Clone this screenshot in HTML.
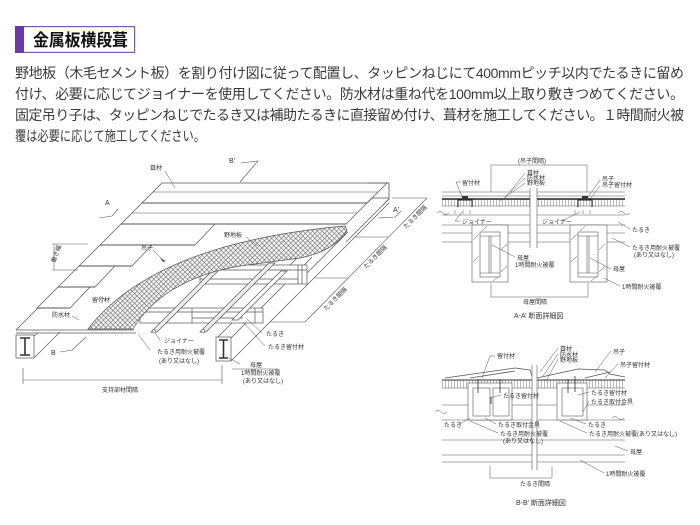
<!DOCTYPE html>
<html lang="ja">
<head>
<meta charset="utf-8">
<style>
html,body{margin:0;padding:0;background:#fff;}
body{width:700px;height:525px;position:relative;overflow:hidden;}
svg{position:absolute;left:0;top:0;}
.t{font-family:"Liberation Sans","Noto Sans CJK JP",sans-serif;}
.lb{font-family:"Liberation Sans","Noto Sans CJK JP",sans-serif;font-size:6px;fill:#333;}
</style>
</head>
<body>
<svg width="700" height="525" viewBox="0 0 700 525" xmlns="http://www.w3.org/2000/svg">
<defs>
<pattern id="chk" width="3.4" height="3.4" patternUnits="userSpaceOnUse" patternTransform="rotate(45)">
<rect width="3.4" height="3.4" fill="#f4f4f4"/>
<path d="M0 0H3.4M0 0V3.4" stroke="#555" stroke-width="0.9"/>
</pattern>
<pattern id="vh" width="3" height="10" patternUnits="userSpaceOnUse">
<rect width="3" height="10" fill="#fff"/>
<path d="M1.5 0V10" stroke="#777" stroke-width="0.5"/>
</pattern>
</defs>

<!-- Header -->
<rect x="15.6" y="26.6" width="119" height="25.8" fill="#fff" stroke="#7d55b5" stroke-width="1.2"/>
<rect x="15" y="26" width="9" height="27" fill="#6a3aa8"/>
<text class="t" x="33" y="46" font-size="17" font-weight="bold" fill="#111" textLength="95" lengthAdjust="spacingAndGlyphs">金属板横段葺</text>

<!-- Body text -->
<g class="t" font-size="14" fill="#3a3a3a">
<text x="15" y="78" textLength="669" lengthAdjust="spacing">野地板（木毛セメント板）を割り付け図に従って配置し、タッピンねじにて400mmピッチ以内でたるきに留め</text>
<text x="15" y="99" textLength="669" lengthAdjust="spacing">付け、必要に応じてジョイナーを使用してください。防水材は重ね代を100mm以上取り敷きつめてください。</text>
<text x="15" y="120" textLength="669" lengthAdjust="spacing">固定吊り子は、タッピンねじでたるき又は補助たるきに直接留め付け、葺材を施工してください。１時間耐火被</text>
<text x="15" y="141" textLength="190" lengthAdjust="spacingAndGlyphs">覆は必要に応じて施工してください。</text>
</g>

<!-- ============ MAIN ISOMETRIC DIAGRAM ============ -->
<g fill="none" stroke="#555" stroke-width="0.7">
  <path d="M16,330 L162,183"/>
  <path d="M16,330 H134 M16,333 H136"/>
  <path d="M217,338 L300,255 M231,338 L312,257 M231,361 L389,203"/>
  <rect x="200" y="265" width="107" height="19" fill="#fff"/>
  <path d="M200,270 H307 M298,265 V284 M302,265 V284 M200,279 H298"/>
  <rect x="140" y="308" width="123" height="15" fill="#fff"/>
  <path d="M140,312 H263 M192,308 V323 M255,308 V323 M192,318 H243"/>
  <polygon points="232,320 238,320 287,271 281,271" fill="#fff"/>
  <polygon points="151,332 157,332 226,263 220,263" fill="#eee"/>
  <polygon points="200,332 206,332 275,263 269,263" fill="#eee"/>
  <circle cx="154" cy="331" r="1.8" fill="#fff"/>
  <circle cx="203" cy="331" r="1.8" fill="#fff"/>
  <path d="M348,232 L307,273"/>
  <path d="M389,199 L346,242"/>
  <g fill="#fff">
    <polygon points="162,183 387,183 367,203 142,203"/>
    <polygon points="142,203 367,203 346,224 121,224"/>
    <polygon points="121,224 215,224 195,245 100,245"/>
    <polygon points="100,245 152,245 132,266 79,266"/>
    <polygon points="79,266 115,266 95,287 58,287"/>
    <polygon points="58,287 90,287 70,308 37,308"/>
  </g>
  <path d="M153,192 H378 M132,213 H357" stroke-width="0.5"/>
  <path d="M142,203 H367 M121,224 H346 M100,245 H195 M79,266 H132 M58,287 H95 M37,308 H70" stroke-width="1"/>
  <path d="M367,183 L389,183 L389,199 L383,205 M367,203 L372,198 L389,198" stroke-width="0.8"/>
  <path d="M88,329 C130,275 210,238 345,226 L347,231 Q332,252 300,258 L240,266 C185,275 150,300 133,329 Z" fill="url(#chk)" stroke="#555" stroke-width="0.7"/>
  <rect x="16" y="335" width="18" height="23" fill="#fff"/>
  <path d="M34,358 L60,332 M34,336 L38,333"/>
  <path d="M20,338 H30 M20,355 H30 M25,338 V355" stroke-width="1.6" stroke="#333"/>
  <rect x="216" y="337" width="15" height="24" fill="#fff"/>
  <path d="M219,340 H228 M219,358 H228 M223.5,340 V358" stroke-width="1.6" stroke="#333"/>
  <path d="M23,380 H222 M23,368 V384 M222,365 V384" stroke-width="0.6"/>
  <path d="M427,198 L305,322 M392,198 H427 M355,237 H388 M315,278 H348 M270,322 H305" stroke-width="0.6"/>
  <path d="M99,218 L112,216 L118,209" stroke-width="0.6"/>
  <path d="M378,218 L395,217 L401,211" stroke-width="0.6"/>
  <path d="M241,163 L258,161 L240,182" stroke-width="0.6"/>
  <path d="M60,352 L72,350 L86,337" stroke-width="0.6"/>
  <path d="M52,244 H88 M52,270 H78 M54,244 V270" stroke-width="0.5"/>
  <path d="M165,171 L175,188 M246,237 L258,246 M153,250 L164,261 M106,301 L100,296 M72,316 L79,320 M160,340 L155,333 M262,333 L246,318 M265,346 L243,322 M150,350 L138,334 M240,364 L229,358 M232,369 H278" stroke-width="0.5"/>
  <path d="M160,258 l3,4 l3,-1 z" fill="#555" stroke="none"/>
</g>
<g class="lb">
  <text x="150" y="170">葺材</text>
  <text x="229" y="163" font-size="7">B'</text>
  <text x="105" y="205" font-size="7">A</text>
  <text x="393" y="212" font-size="7">A'</text>
  <text x="224" y="237">野地板</text>
  <text x="141" y="250">吊子</text>
  <text x="92" y="302">留付材</text>
  <text x="52" y="317">防水材</text>
  <text x="164" y="343">ジョイナー</text>
  <text x="51" y="355" font-size="7">B</text>
  <text x="266" y="336">たるき</text>
  <text x="268" y="349">たるき留付材</text>
  <text x="157" y="354">たるき用耐火被覆</text>
  <text x="159" y="363">(あり又はなし)</text>
  <text x="250" y="367">母屋</text>
  <text x="241" y="375">1時間耐火被覆</text>
  <text x="243" y="383">(あり又はなし)</text>
  <text x="102" y="392">支持部材間隔</text>
  <text transform="translate(55,263) rotate(-70)">働き幅</text>
  <text transform="translate(406,229) rotate(-45)">たるき間隔</text>
  <text transform="translate(366,269) rotate(-45)">たるき間隔</text>
  <text transform="translate(326,311) rotate(-45)">たるき間隔</text>
</g>

<!-- ============ A-A' SECTION ============ -->
<g fill="none" stroke="#555" stroke-width="0.6">
  <rect x="442" y="199" width="88" height="7" fill="url(#vh)" stroke="none"/>
  <rect x="537" y="199" width="88" height="7" fill="url(#vh)" stroke="none"/>
  <path d="M442,192 H530 M537,192 H625 M442,196 H530 M537,196 H625 M442,206 H530 M537,206 H625 M442,215 H530 M537,215 H625 M442,225 H530 M537,225 H625 M442,233 H530 M537,233 H625 M442,242 H530 M537,242 H625"/>
  <path d="M442,199 H530 M537,199 H625" stroke="#222" stroke-width="1.4"/>
  <path d="M530,188 V248 M537,188 V248"/>
  <path d="M458,207 V200 H472 V207 M578,207 V200 H592 V207" stroke="#222" stroke-width="1"/>
  <rect x="462" y="196" width="6" height="4" fill="#333" stroke="none"/>
  <rect x="582" y="196" width="6" height="4" fill="#333" stroke="none"/>
  <path d="M455,210 V214 M463,210 V214 M470,210 V214 M575,210 V214 M583,210 V214 M590,210 V214" stroke-width="0.5"/>
  <path d="M437,213 q3,-3 6,0 q3,3 6,0 M618,213 q3,-3 6,0 q3,3 6,0" stroke-width="0.5"/>
  <rect x="472" y="225" width="36" height="57" fill="#fff"/>
  <rect x="480" y="232" width="20" height="45"/>
  <path d="M480,236 H500 M480,273 H500 M489,236 V273 M491,236 V273"/>
  <path d="M473,240 L479,234 M473,262 L479,256 M501,250 L507,244 M501,272 L507,266 M482,231 L487,226 M493,281 L498,277" stroke-width="0.5"/>
  <rect x="570" y="225" width="37" height="57" fill="#fff"/>
  <rect x="578" y="232" width="20" height="45"/>
  <path d="M578,236 H598 M578,273 H598 M587,236 V273 M589,236 V273"/>
  <path d="M571,240 L577,234 M571,262 L577,256 M599,250 L605,244 M599,272 L605,266 M580,231 L585,226 M591,281 L596,277" stroke-width="0.5"/>
  <path d="M491,192 V165 H587 V192 M491,283 V297 H588 V283" stroke-width="0.5"/>
  <path d="M525,173 L510,192 M525,178 L505,197 M525,183 L500,201 M461,182 H456 L463,199 M600,180 L588,197 M600,186 L590,199 M460,221 H455 L462,212 M562,221 L580,212 M630,229 L618,222 M630,247 L612,238 M515,257 L492,245 M611,269 L590,258 M620,286 L604,278" stroke-width="0.5"/>
</g>
<g class="lb">
  <text x="518" y="163">(吊子間隔)</text>
  <text x="527" y="175">葺材</text>
  <text x="527" y="180">防水材</text>
  <text x="527" y="185">野地板</text>
  <text x="462" y="185">留付材</text>
  <text x="602" y="181">吊子</text>
  <text x="602" y="187">吊子留付材</text>
  <text x="462" y="224">ジョイナー</text>
  <text x="542" y="224">ジョイナー</text>
  <text x="632" y="232">たるき</text>
  <text x="632" y="250">たるき用耐火被覆</text>
  <text x="634" y="257">(あり又はなし)</text>
  <text x="517" y="260">母屋</text>
  <text x="515" y="267">1時間耐火被覆</text>
  <text x="613" y="271">母屋</text>
  <text x="622" y="289">1時間耐火被覆</text>
  <text x="523" y="304">母屋間隔</text>
  <text x="514" y="318" font-size="7">A-A’ 断面詳細図</text>
</g>

<!-- ============ B-B' SECTION ============ -->
<g fill="none" stroke="#555" stroke-width="0.6">
  <rect x="442" y="380" width="90" height="8" fill="url(#vh)" stroke="none"/>
  <rect x="537" y="380" width="88" height="8" fill="url(#vh)" stroke="none"/>
  <path d="M445,378 L515,368 L530,370 L532,376 M470,378 L515,371 M537,378 L578,369 L605,370 L610,374 L625,377 M585,378 L610,372" stroke-width="0.8"/>
  <path d="M442,380 H532 M537,380 H625" stroke="#333" stroke-width="1"/>
  <path d="M442,388 H532 M537,388 H625"/>
  <path d="M442,405 H532 M537,405 H625 M442,420 H532 M537,420 H625 M442,440 H532 M537,440 H625 M442,455 H532 M537,455 H625 M442,462 H532 M537,462 H625"/>
  <path d="M532,365 V470 M537,365 V470"/>
  <path d="M435,412 q3,-3 6,0 q3,3 6,0 M612,418 q3,-3 6,0 q3,3 6,0 M570,416 q3,-2 6,0" stroke-width="0.5"/>
  <rect x="468" y="383" width="44" height="37" fill="#fff"/>
  <rect x="473" y="388" width="17" height="28"/>
  <rect x="493" y="388" width="16" height="28"/>
  <rect x="557" y="383" width="30" height="37" fill="#fff"/>
  <rect x="562" y="388" width="21" height="28"/>
  <path d="M478,379 V393 M500,379 V393 M568,379 V393 M575,376 V392 M491,397 V404" stroke="#333" stroke-width="0.8"/>
  <path d="M490,466 V478 H552 V466" stroke-width="0.5"/>
  <path d="M558,348 L540,372 M558,354 L543,376 M558,359 L546,381 M495,356 H490 L482,378 M611,351 L595,372 M618,364 L605,378 M501,395 L490,398 M589,392 L578,395 M589,401 L583,412 M460,424 L470,418 M496,424 L485,418 M498,433 L470,421 M586,424 L570,418 M587,433 L560,421 M628,451 L615,446 M604,473 L580,460" stroke-width="0.5"/>
</g>
<g class="lb">
  <text x="560" y="351">葺材</text>
  <text x="560" y="357">防水材</text>
  <text x="560" y="362">野地板</text>
  <text x="497" y="358">留付材</text>
  <text x="613" y="354">吊子</text>
  <text x="620" y="367">吊子留付材</text>
  <text x="503" y="398">たるき留付材</text>
  <text x="591" y="395">たるき留付材</text>
  <text x="591" y="404">たるき取付金具</text>
  <text x="444" y="427">たるき</text>
  <text x="498" y="427">たるき取付金具</text>
  <text x="500" y="436">たるき用耐火被覆</text>
  <text x="503" y="443">(あり又はなし)</text>
  <text x="588" y="427">たるき</text>
  <text x="589" y="436">たるき用耐火被覆(あり又はなし)</text>
  <text x="630" y="454">母屋</text>
  <text x="606" y="476">1時間耐火被覆</text>
  <text x="520" y="486">たるき間隔</text>
  <text x="516" y="505" font-size="7">B-B’ 断面詳細図</text>
</g>
</svg>
</body>
</html>
